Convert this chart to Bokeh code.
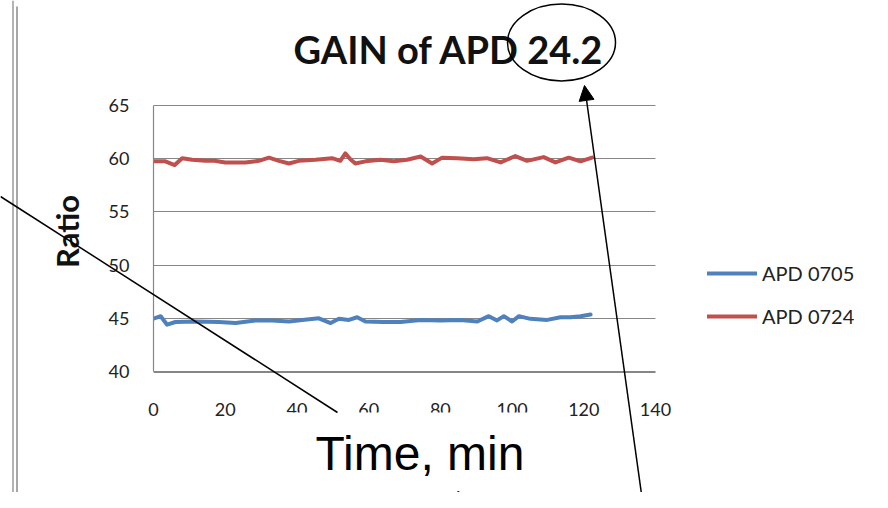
import numpy as np
from bokeh.plotting import figure
from bokeh.layouts import column
from bokeh.models import (Range1d, Legend, LegendItem, Arrow, NormalHead)
from bokeh.core.properties import value
from bokeh.embed import file_html
from bokeh.resources import INLINE

# ---------------- data ----------------
t_0705 = [0, 2, 3.8, 6.1, 11.7, 18.2, 22.9, 28.4, 33.1, 37.8, 41.5, 46.1, 49.4,
          51.7, 54.5, 56.8, 59.1, 64, 68.9, 74.5, 80, 85.6, 90.3, 93.5, 95.8,
          97.7, 100, 101.9, 105.1, 109.8, 113.5, 116.3, 119.1, 121.9]
v_0705 = [44.97, 45.2, 44.4, 44.65, 44.7, 44.65, 44.55, 44.8, 44.8, 44.7, 44.85,
          45.0, 44.55, 44.95, 44.85, 45.1, 44.7, 44.65, 44.65, 44.85, 44.8, 44.85,
          44.7, 45.2, 44.8, 45.2, 44.7, 45.2, 44.95, 44.85, 45.1, 45.1, 45.2, 45.35]

t_0724 = [0, 3.3, 5.9, 8, 10.8, 14.5, 17, 20, 25.6, 29.4, 32.2, 35, 37.8, 40.5,
          45.2, 49.8, 52.1, 53.5, 54.9, 56.3, 59.1, 63.3, 67, 70.7, 74.5, 77.7,
          80.5, 84.7, 89.3, 93, 96.8, 100.9, 104.2, 108.8, 112.1, 115.8, 119.1, 122.3]
v_0724 = [59.75, 59.75, 59.4, 60.05, 59.9, 59.8, 59.8, 59.65, 59.65, 59.8, 60.1,
          59.8, 59.55, 59.8, 59.9, 60.05, 59.8, 60.5, 59.95, 59.55, 59.75, 59.9,
          59.75, 59.9, 60.2, 59.55, 60.1, 60.05, 59.95, 60.05, 59.65, 60.25, 59.8,
          60.15, 59.65, 60.1, 59.75, 60.1]

series_names = ["APD 0705", "APD 0724"]
series_colors = ["#4F81BD", "#C0504D"]
x_ticks = [0, 20, 40, 60, 80, 100, 120, 140]
y_ticks = [40, 45, 50, 55, 60, 65]
title_text = "GAIN of APD 24.2"
y_label = "Ratio"
x_label = "Time, min"

# ---------------- chart figure ----------------
W, H = 872, 492
GRID = "#868686"
X_MIN, X_MAX = 0, 140
Y_MIN, Y_MAX = 40, 65
# plot area of the chart in pixels: x 153..655, y 105 (=65) .. 371 (=40)
PX_PER_X = (655 - 153) / (X_MAX - X_MIN)
PX_PER_Y = (371 - 105) / (Y_MAX - Y_MIN)
FRAME_TOP, FRAME_BOTTOM = 90, 372
# the frame runs on to the right edge (legend lives inside it, unclipped)
X_END = X_MIN + (W - 153) / PX_PER_X
Y_START = Y_MIN - (FRAME_BOTTOM - 371) / PX_PER_Y
Y_END = Y_MIN + (371 - FRAME_TOP) / PX_PER_Y

p = figure(width=W, height=H, output_backend="svg", toolbar_location=None,
           x_range=Range1d(X_MIN, X_END), y_range=Range1d(Y_START, Y_END),
           min_border_left=153, min_border_right=0,
           min_border_top=FRAME_TOP, min_border_bottom=H - FRAME_BOTTOM,
           frame_align=False)
p.background_fill_color = "white"
p.border_fill_color = "white"
p.outline_line_color = None

p.title.text = title_text
p.title.text_font = "Lato"
p.title.text_font_style = "bold"
p.title.text_font_size = "38px"
p.title.text_color = "#111111"
p.title.align = "left"
p.title.offset = 140
p.title.standoff = 38

for ax in (p.xaxis[0], p.yaxis[0]):
    ax.axis_line_color = GRID
    ax.axis_line_width = 1.2
    ax.major_tick_line_color = None
    ax.minor_tick_line_color = None
    ax.major_tick_out = 0
    ax.major_tick_in = 0
    ax.minor_tick_out = 0
    ax.major_label_text_font = "Lato"
    ax.major_label_text_font_size = "18px"
    ax.major_label_text_color = "#222222"

p.xaxis.ticker = x_ticks
p.xaxis.bounds = (X_MIN, X_MAX)
p.yaxis.ticker = y_ticks
p.yaxis.bounds = (Y_MIN, Y_MAX)
p.xaxis.major_label_standoff = 30
p.yaxis.major_label_standoff = 24
p.yaxis.axis_label = y_label
p.yaxis.axis_label_text_font = "Lato"
p.yaxis.axis_label_text_font_style = "bold"
p.yaxis.axis_label_text_font_size = "31px"
p.yaxis.axis_label_text_color = "#111111"
p.yaxis.axis_label_standoff = 20

p.xgrid.grid_line_color = None
yg = p.ygrid[0]
yg.ticker = y_ticks
if "cross_bounds" in yg.properties():
    yg.cross_bounds = (X_MIN, X_MAX)
    yg.grid_line_color = GRID
    yg.grid_line_width = 1.2
else:
    yg.visible = False
    p.segment(x0=[X_MIN] * len(y_ticks), y0=y_ticks, x1=[X_MAX] * len(y_ticks),
              y1=y_ticks, line_color=GRID, line_width=1.2)

r1 = p.line(t_0705, v_0705, line_color=series_colors[0], line_width=4,
            line_join="round", line_cap="round")
r2 = p.line(t_0724, v_0724, line_color=series_colors[1], line_width=4,
            line_join="round", line_cap="round")

legend = Legend(items=[LegendItem(label=series_names[0], renderers=[r1]),
                       LegendItem(label=series_names[1], renderers=[r2])],
                location=(554, 44), orientation="vertical",
                glyph_width=50, glyph_height=24, label_standoff=5, spacing=19,
                padding=0, margin=0, border_line_color=None,
                background_fill_alpha=0,
                label_text_font="Lato", label_text_font_size="20px",
                label_text_color="#222222")
p.add_layout(legend, "center")

# ---------------- slide overlay (pixel space, drawn on top) ----------------
q = figure(width=W, height=H, output_backend="svg", toolbar_location=None,
           x_range=Range1d(0, W), y_range=Range1d(H, 0), min_border=0,
           x_axis_type=None, y_axis_type=None, margin=(-H, 0, 0, 0),
           frame_align=False)
q.background_fill_alpha = 0
q.border_fill_alpha = 0
q.outline_line_color = None
q.grid.visible = False

# slide frame lines at the left edge
q.segment(x0=[12.5, 16.5], y0=[0, 6], x1=[12.5, 16.5], y1=[H, H],
          line_color=["#9a9a9a", "#8a8a8a"], line_width=1.5)

# caption box over the x-axis
q.quad(left=[258], right=[550], top=[412], bottom=[492],
       fill_color="white", line_color=None)
q.text(x=[315], y=[453], text=[x_label], text_font=value("Liberation Sans"),
       text_font_size="48px", text_color="black",
       text_align="left", text_baseline="middle")

# pointer lines
q.segment(x0=[0, 457], y0=[196, 491], x1=[337, 500], y1=[412, 515],
          line_color="black", line_width=1.5)
q.add_layout(Arrow(x_start=644, y_start=515, x_end=584, y_end=85,
                   line_color="black", line_width=1.5,
                   end=NormalHead(size=15, fill_color="black",
                                  line_color="black", line_width=1)))

# ellipse around "24.2"
q.ellipse(x=[561], y=[42], width=[108], height=[77], fill_alpha=0,
          line_color="black", line_width=1.5)

layout = column(p, q, spacing=0)
open("out.html", "w").write(file_html(layout, INLINE))
